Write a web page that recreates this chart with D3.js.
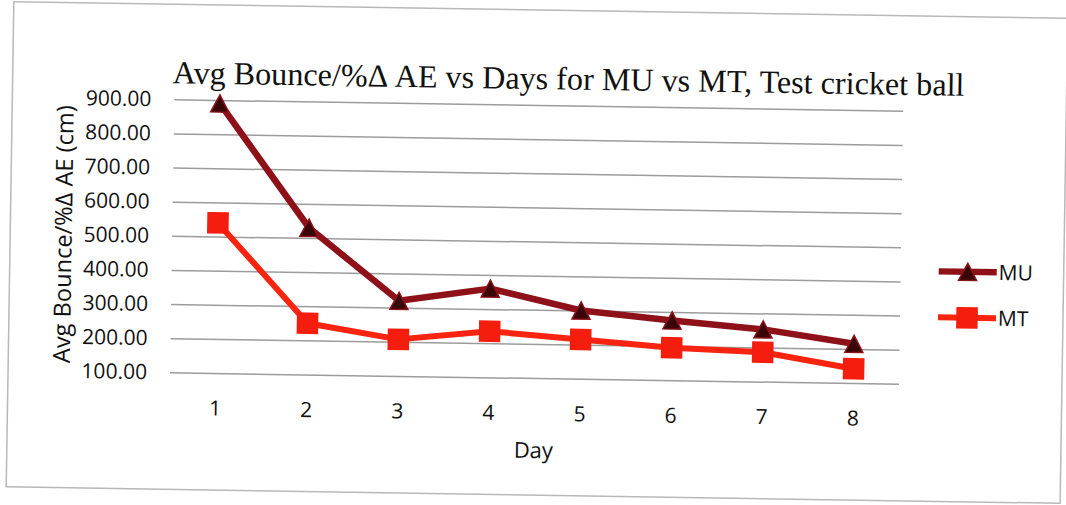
<!DOCTYPE html>
<html>
<head>
<meta charset="utf-8">
<script src="https://cdn.jsdelivr.net/npm/d3@7"></script>
<style>
  html, body { margin: 0; padding: 0; background: #ffffff; overflow: hidden; }
  svg { display: block; }
</style>
</head>
<body>
<svg id="chart" width="1066" height="505"></svg>
<script>
// Chart data
const days = ["1", "2", "3", "4", "5", "6", "7", "8"];
const muValues = [890, 530, 320, 360, 300, 275, 253, 215];
const mtValues = [540, 250, 207, 235, 215, 195, 186, 142];
const yTickValues = [100, 200, 300, 400, 500, 600, 700, 800, 900];
const seriesNames = ["MU", "MT"];
const titleText = "Avg Bounce/%\u0394 AE vs Days for MU vs MT, Test cricket ball";
const yTitleText = "Avg Bounce/%\u0394 AE (cm)";
const xTitleText = "Day";

const plot = { left: 172, right: 901, top: 105, bottom: 378 };
const sansFont = "'Open Sans', 'Liberation Sans', sans-serif";
const serifFont = "'Liberation Serif', 'DejaVu Serif', serif";

const colors = {
  MU: { line: "#8e111a", fill: "#3a0509", stroke: "#8e111a" },
  MT: { line: "#f8240f", fill: "#f41d0e", stroke: "#f41d0e" }
};

const svg = d3.select("#chart");

// the printed page sits at a slight clockwise tilt
const page = svg.append("g").attr("transform", "rotate(0.9, 533, 250)");

// chart frame
page.append("rect")
  .attr("x", 10).attr("y", 10)
  .attr("width", 1054).attr("height", 485)
  .attr("fill", "#ffffff")
  .attr("stroke", "#b8b8b8")
  .attr("stroke-width", 1.5);

const x = d3.scaleBand().domain(days).range([plot.left, plot.right]);
const y = d3.scaleLinear().domain([100, 900]).range([plot.bottom, plot.top]);
const cx = d => x(d) + x.bandwidth() / 2;

// fit a text element to a given length
function fitText(sel, baseSize, target) {
  const len = sel.node().getComputedTextLength();
  if (len > 0) sel.style("font-size", (baseSize * target / len).toFixed(2) + "px");
}

// value axis with horizontal gridlines
const yAxisG = page.append("g")
  .attr("transform", `translate(${plot.left},0)`)
  .call(d3.axisLeft(y)
    .tickValues(yTickValues)
    .tickFormat(d3.format(".2f"))
    .tickSize(-(plot.right - plot.left))
    .tickPadding(23));
yAxisG.select(".domain").remove();
yAxisG.selectAll(".tick line")
  .attr("stroke", "#9c9c9c")
  .attr("stroke-width", 1.5);
yAxisG.selectAll(".tick text")
  .attr("fill", "#111")
  .style("font-family", sansFont)
  .style("font-size", "21px");

// category axis
const xAxisG = page.append("g")
  .attr("transform", `translate(0,${plot.bottom})`)
  .call(d3.axisBottom(x).tickSize(0).tickPadding(0));
xAxisG.select(".domain").remove();
xAxisG.selectAll(".tick text")
  .attr("y", 35)
  .attr("dy", "0.36em")
  .attr("fill", "#111")
  .style("font-family", sansFont)
  .style("font-size", "21px");

// axis titles
page.append("text")
  .attr("x", (plot.left + plot.right) / 2)
  .attr("y", 450)
  .attr("dy", "0.36em")
  .attr("text-anchor", "middle")
  .attr("fill", "#111")
  .style("font-family", sansFont)
  .style("font-size", "22px")
  .text(xTitleText);

const yTitle = page.append("text")
  .attr("transform", `translate(63,${(plot.top + plot.bottom) / 2}) rotate(-90)`)
  .attr("dy", "0.36em")
  .attr("text-anchor", "middle")
  .attr("fill", "#111")
  .style("font-family", sansFont)
  .style("font-size", "20px")
  .text(yTitleText);
fitText(yTitle, 20, 258);

// chart title, sized to span its line
const title = page.append("text")
  .attr("x", 170)
  .attr("y", 89)
  .attr("fill", "#111")
  .style("font-family", serifFont)
  .style("font-size", "28px")
  .text(titleText);
fitText(title, 28, 792);

// marker shapes: triangle centred on its bounding box, and a square
const triangleType = {
  draw(ctx, size) {
    const w = Math.sqrt(size), h = w * 0.95;
    ctx.moveTo(0, -h / 2);
    ctx.lineTo(w / 2, h / 2);
    ctx.lineTo(-w / 2, h / 2);
    ctx.closePath();
  }
};
const triSymbol = d3.symbol().type(triangleType).size(18 * 18);
const sqSymbol = d3.symbol().type(d3.symbolSquare).size(20 * 20);

const series = [
  { name: seriesNames[0], values: muValues, symbol: triSymbol, width: 6.5 },
  { name: seriesNames[1], values: mtValues, symbol: sqSymbol, width: 6 }
];

const line = d3.line()
  .x(d => cx(d.day))
  .y(d => y(d.value));

// draw MT first so MU sits on top
series.slice().reverse().forEach(s => {
  const pts = days.map((d, i) => ({ day: d, value: s.values[i] }));
  const c = colors[s.name];
  page.append("path")
    .datum(pts)
    .attr("d", line)
    .attr("fill", "none")
    .attr("stroke", c.line)
    .attr("stroke-width", s.width)
    .attr("stroke-linejoin", "round");
  page.selectAll(null)
    .data(pts)
    .join("path")
    .attr("transform", d => `translate(${cx(d.day)},${y(d.value)})`)
    .attr("d", s.symbol)
    .attr("fill", c.fill)
    .attr("stroke", c.stroke)
    .attr("stroke-width", 1.5);
});

// legend
const legend = page.append("g").attr("transform", "translate(939,265)");
series.forEach((s, i) => {
  const c = colors[s.name];
  const g = legend.append("g").attr("transform", `translate(0,${i * 46})`);
  g.append("line")
    .attr("x1", 0).attr("x2", 58)
    .attr("stroke", c.line)
    .attr("stroke-width", s.width);
  g.append("path")
    .attr("transform", "translate(29,0)")
    .attr("d", s.symbol)
    .attr("fill", c.fill)
    .attr("stroke", c.stroke)
    .attr("stroke-width", 1.5);
  g.append("text")
    .attr("x", 60)
    .attr("dy", "0.36em")
    .attr("fill", "#111")
    .style("font-family", sansFont)
    .style("font-size", "21px")
    .text(s.name);
});
</script>
</body>
</html>
